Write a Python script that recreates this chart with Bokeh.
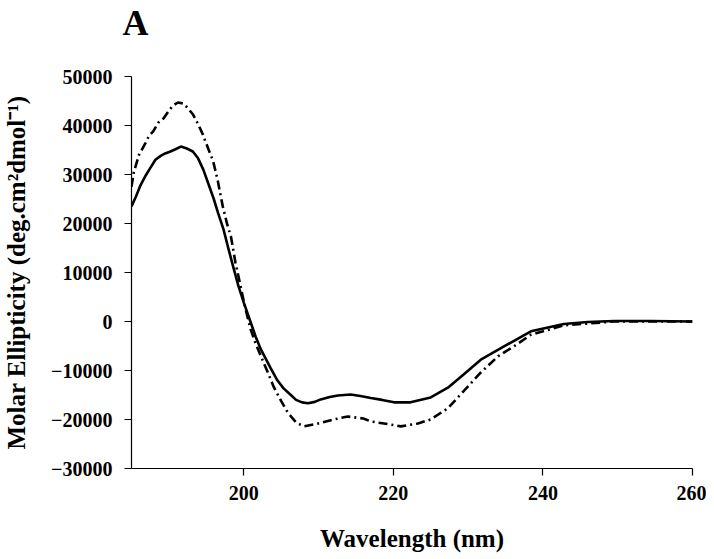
from bokeh.plotting import figure
from bokeh.models import Range1d, FixedTicker, Title
from bokeh.embed import file_html
from bokeh.resources import INLINE

# Solid curve (wavelength nm, molar ellipticity)
solid_x = [185.0, 185.6, 186.2, 186.9, 187.5, 188.2, 188.9, 189.5, 190.2, 190.8, 191.6,
           192.4, 193.2, 193.9, 194.6, 195.3, 196.0, 196.6, 197.3, 198.0, 198.7, 199.3,
           200.0, 200.8, 201.6, 202.3, 203.6, 204.5, 205.3, 206.3, 207.0, 207.8, 208.6,
           209.5, 210.3, 211.5, 212.6, 214.3, 215.6, 217.0, 218.5, 220.1, 222.3, 225.0,
           227.3, 229.4, 231.7, 234.8, 238.4, 242.8, 246.0, 249.5, 254.5, 260.0]
solid_y = [23500, 25500, 27800, 29800, 31300, 33000, 33800, 34300, 34700, 35100, 35700,
           35300, 34700, 33300, 31000, 28000, 25000, 22000, 18800, 14600, 10600, 7200,
           3900, 400, -3100, -5700, -9500, -12000, -13600, -15000, -16000, -16500, -16700,
           -16400, -15900, -15400, -15100, -14900, -15200, -15600, -16000, -16500, -16500,
           -15500, -13500, -10800, -7800, -5100, -2000, -500, -100, 100, 100, 0]

# Dash-dot curve
dash_x = [185.0, 185.3, 186.0, 186.9, 187.3, 187.9, 188.6, 189.3, 189.9, 190.5, 191.2,
          191.9, 192.5, 193.2, 193.8, 194.5, 195.3, 195.9, 196.5, 197.2, 197.8, 198.3,
          198.9, 199.6, 200.1, 200.9, 201.6, 202.3, 203.2, 204.0, 205.0, 205.9, 207.0,
          208.0, 209.4, 210.3, 212.0, 213.9, 216.0, 217.0, 219.5, 221.0, 223.3, 225.0,
          227.3, 229.4, 231.7, 234.0, 236.1, 238.4, 242.8, 249.5, 260.0]
dash_y = [27500, 30400, 34000, 36500, 37800, 38800, 40600, 41500, 42800, 44000, 44700,
          44500, 43600, 42300, 40600, 38300, 35100, 32800, 29000, 23500, 19800, 17300,
          12000, 7100, 3500, -1500, -4500, -7100, -10300, -13300, -16200, -18600, -20600,
          -21400, -21000, -20700, -20000, -19400, -19800, -20400, -21000, -21400, -20800,
          -20000, -17700, -14200, -10400, -7100, -5100, -2700, -800, 0, 0]

x_ticks = [200, 220, 240, 260]
y_ticks = [-30000, -20000, -10000, 0, 10000, 20000, 30000, 40000, 50000]

FONT = "Liberation Serif"

p = figure(frame_width=561, frame_height=392, output_backend="svg", toolbar_location=None,
           x_range=Range1d(185, 260), y_range=Range1d(-30000, 50000),
           min_border_left=123, min_border_top=69, min_border_right=14, min_border_bottom=82)

# spacer between the panel letter and the plot frame
p.add_layout(Title(text=" ", text_font=FONT, text_font_size="10px", standoff=21), "above")
p.add_layout(Title(text="A", text_font=FONT, text_font_size="36px", text_font_style="bold",
                   text_color="black", align="left", offset=-9, standoff=0), "above")

p.outline_line_color = None
p.xgrid.visible = False
p.ygrid.visible = False
p.background_fill_color = "white"
p.border_fill_color = "white"

p.line(solid_x, solid_y, line_color="black", line_width=2.6)
p.line(dash_x, dash_y, line_color="black", line_width=2.6, line_dash="9 4 2 4")

for ax in (p.xaxis[0], p.yaxis[0]):
    ax.axis_line_color = "black"
    ax.axis_line_width = 1.2
    ax.major_tick_line_color = "black"
    ax.major_tick_line_width = 1.2
    ax.major_tick_in = 0
    ax.major_tick_out = 7
    ax.minor_tick_line_color = None
    ax.major_label_text_font = FONT
    ax.major_label_text_font_style = "bold"
    ax.major_label_text_font_size = "20px"
    ax.major_label_text_color = "black"
    ax.axis_label_text_font = FONT
    ax.axis_label_text_font_style = "bold"
    ax.axis_label_text_font_size = "25px"
    ax.axis_label_text_color = "black"

p.xaxis.ticker = FixedTicker(ticks=x_ticks)
p.yaxis.ticker = FixedTicker(ticks=y_ticks)
p.xaxis.major_label_standoff = 10
p.yaxis.major_label_standoff = 12
p.xaxis.axis_label = "Wavelength (nm)"
p.yaxis.axis_label = "Molar Ellipticity (deg.cm²dmol⁻¹)"
p.xaxis.axis_label_standoff = 22
p.yaxis.axis_label_standoff = 18

open("out.html", "w").write(file_html(p, INLINE))
